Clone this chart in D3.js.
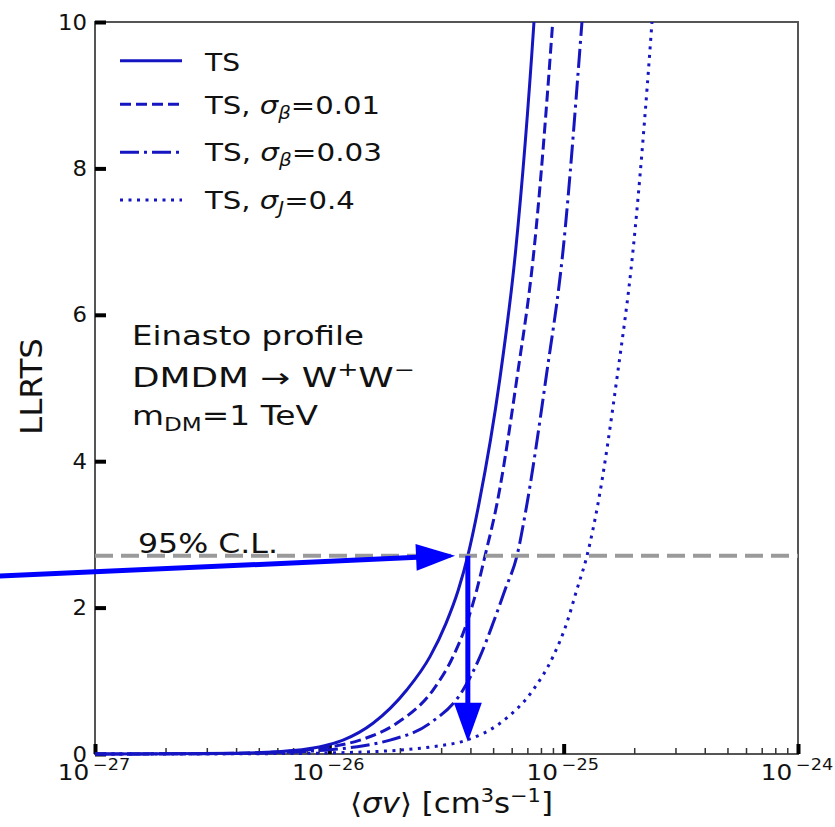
<!DOCTYPE html>
<html>
<head>
<meta charset="utf-8">
<script src="https://cdn.jsdelivr.net/npm/d3@7"></script>
<style>
  body { margin: 0; background: #fff; }
  svg { display: block; }
  text { font-family: "DejaVu Sans", sans-serif; fill: #111; }
</style>
</head>
<body>
<svg id="chart" width="835" height="827"></svg>
<script>
// Annihilation cross-section <σv> (cm^3 s^-1) and the log-likelihood ratio test statistic
const svSolid   = [1e-27, 2e-27, 4e-27, 6e-27, 8e-27, 1e-26, 1.144e-26, 1.536e-26, 2.139e-26, 2.689e-26, 3.147e-26, 3.551e-26, 3.9e-26, 4.35e-26, 5.35e-26, 6.24e-26, 7.47e-26, 7.75e-26];
const tsSolid   = [0.001, 0.002, 0.01, 0.03, 0.067, 0.13, 0.19, 0.42, 0.874, 1.33, 1.785, 2.24, 2.71, 3.42, 5.14, 6.88, 10.0, 10.8];

const svDash    = [1e-27, 2e-27, 4e-27, 6e-27, 8e-27, 1e-26, 1.352e-26, 1.939e-26, 2.77e-26, 3.372e-26, 3.857e-26, 4.256e-26, 4.62e-26, 5.194e-26, 6.322e-26, 7.47e-26, 8.98e-26, 9.35e-26];
const tsDash    = [0.001, 0.002, 0.009, 0.027, 0.056, 0.095, 0.19, 0.42, 0.874, 1.33, 1.785, 2.24, 2.71, 3.42, 5.14, 6.88, 10.0, 10.8];

const svDashDot = [1e-27, 2e-27, 4e-27, 6e-27, 8e-27, 1e-26, 1.4e-26, 1.815e-26, 2.689e-26, 3.719e-26, 4.395e-26, 4.994e-26, 5.618e-26, 6.322e-26, 6.975e-26, 8.41e-26, 9.94e-26, 1.197e-25, 1.25e-25];
const tsDashDot = [0.001, 0.002, 0.006, 0.02, 0.036, 0.058, 0.113, 0.19, 0.42, 0.874, 1.33, 1.785, 2.24, 2.71, 3.42, 5.14, 6.88, 10.0, 10.8];

const svDot     = [1e-27, 3e-27, 6e-27, 1e-26, 1.5e-26, 2e-26, 2.77e-26, 3.857e-26, 5.348e-26, 7.399e-26, 9.006e-26, 1.03e-25, 1.137e-25, 1.258e-25, 1.401e-25, 1.689e-25, 1.977e-25, 2.382e-25, 2.48e-25];
const tsDot     = [0.0, 0.002, 0.0056, 0.0144, 0.031, 0.053, 0.1, 0.19, 0.42, 0.874, 1.33, 1.785, 2.24, 2.71, 3.42, 5.14, 6.88, 10.0, 10.8];

// Legend entries: subscript of σ and its value ("" for the baseline TS)
const legendSub = ["", "β", "β", "J"];
const legendVal = ["", "0.01", "0.03", "0.4"];

// Axis ticks
const yTicks   = [0, 2, 4, 6, 8, 10];
const xTicks   = [1e-27, 1e-26, 1e-25, 1e-24];
const xTickExp = ["−27", "−26", "−25", "−24"];

// 95% confidence level and the resulting upper limit
const clLevel     = 2.71;
const limitSv     = 3.9e-26;
const hArrowFrom  = [3.9e-28, 2.43];
const hArrowTo    = [3.44e-26, 2.71];
const vArrowTo    = [3.9e-26, 0.168];

// ---------------------------------------------------------------------------
const svg = d3.select("#chart");
const L = 95, R = 798, T = 22, B = 754;
const x = d3.scaleLog().domain([1e-27, 1e-24]).range([L, R]);
const y = d3.scaleLinear().domain([0, 10]).range([B, T]);

const curveColor = "#1515c2";
const arrowColor = "#0000ff";

// stretch a text element horizontally so it spans a given width
function fitText(sel, tx, ty, width, rotate) {
  const w = sel.node().getComputedTextLength();
  const s = width / w;
  sel.attr("transform", `translate(${tx},${ty})` + (rotate ? ` rotate(${rotate})` : "") + ` scale(${s},1)`);
}

svg.append("defs").append("clipPath").attr("id", "plotClip")
  .append("rect").attr("x", L).attr("y", T).attr("width", R - L).attr("height", B - T + 3);

// frame
svg.append("rect").attr("x", L).attr("y", T).attr("width", R - L).attr("height", B - T)
  .attr("fill", "none").attr("stroke", "#555").attr("stroke-width", 2);

// x axis ticks (inward)
const xMinor = [];
for (let e = -27; e < -24; e++) for (let m = 2; m <= 9; m++) xMinor.push(m * Math.pow(10, e));
svg.append("g").attr("transform", `translate(0,${B})`)
  .call(d3.axisTop(x).tickValues(xMinor).tickSize(6).tickFormat(""))
  .call(g => g.select(".domain").remove())
  .call(g => g.selectAll("line").attr("stroke", "#333").attr("stroke-width", 1.5));
svg.append("g").attr("transform", `translate(0,${B})`)
  .call(d3.axisTop(x).tickValues(xTicks).tickSize(10).tickFormat(""))
  .call(g => g.select(".domain").remove())
  .call(g => g.selectAll("line").attr("stroke", "#000").attr("stroke-width", 4));

// y axis ticks (inward)
svg.append("g").attr("transform", `translate(${L},0)`)
  .call(d3.axisRight(y).tickValues(yTicks).tickSize(11).tickFormat(""))
  .call(g => g.select(".domain").remove())
  .call(g => g.selectAll("line").attr("stroke", "#000").attr("stroke-width", 4));

// y tick labels
yTicks.forEach(v => {
  const t = svg.append("text").attr("text-anchor", "end").attr("font-size", 21).text(v);
  fitText(t, 87, y(v) + 7.5, String(v).length * 14.5);
});

// x tick labels 10^n
xTicks.forEach((v, i) => {
  const t = svg.append("text").attr("text-anchor", "middle").attr("font-size", 21);
  t.append("tspan").text("10");
  t.append("tspan").attr("font-size", 15).attr("dy", -10).attr("dx", 3).text(xTickExp[i]);
  fitText(t, x(v) - 1, 780, 69);
});

// axis titles
const yl = svg.append("text").attr("text-anchor", "middle").attr("font-size", 30).text("LLRTS");
fitText(yl, 42, 386.5, 97, -90);

const xl = svg.append("text").attr("text-anchor", "middle").attr("font-size", 28);
xl.append("tspan").text("⟨");
xl.append("tspan").attr("font-style", "italic").text("σv");
xl.append("tspan").text("⟩ [cm");
xl.append("tspan").attr("font-size", 19).attr("dy", -11).text("3");
xl.append("tspan").attr("dy", 11).text("s");
xl.append("tspan").attr("font-size", 19).attr("dy", -11).text("−1");
xl.append("tspan").attr("dy", 11).text("]");
fitText(xl, 451.5, 813, 203);

// curves
const series = [
  { sv: svSolid,   ts: tsSolid,   dash: null },
  { sv: svDash,    ts: tsDash,    dash: "11,5" },
  { sv: svDashDot, ts: tsDashDot, dash: "19,5,3,5" },
  { sv: svDot,     ts: tsDot,     dash: "3,5.5" }
];
const line = d3.line().curve(d3.curveMonotoneX).x(d => x(d[0])).y(d => y(d[1]));
const curves = svg.append("g").attr("clip-path", "url(#plotClip)");
series.forEach(s => {
  curves.append("path")
    .attr("d", line(s.sv.map((v, i) => [v, s.ts[i]])))
    .attr("fill", "none").attr("stroke", curveColor).attr("stroke-width", 3)
    .attr("stroke-dasharray", s.dash);
});

// 95% C.L. line
svg.append("line")
  .attr("x1", L).attr("x2", R).attr("y1", y(clLevel)).attr("y2", y(clLevel))
  .attr("stroke", "#9a9a9a").attr("stroke-width", 4).attr("stroke-dasharray", "18,8");
const cl = svg.append("text").attr("font-size", 27).text("95% C.L.");
fitText(cl, 138, 553, 140);

// annotation block
const a1 = svg.append("text").attr("font-size", 27).text("Einasto profile");
fitText(a1, 132, 345, 232);
const a2 = svg.append("text").attr("font-size", 27);
a2.append("tspan").text("DMDM  →  W");
a2.append("tspan").attr("font-size", 19).attr("dy", -11).text("+");
a2.append("tspan").attr("dy", 11).text("W");
a2.append("tspan").attr("font-size", 19).attr("dy", -11).text("−");
fitText(a2, 132, 387, 283);
const a3 = svg.append("text").attr("font-size", 27);
a3.append("tspan").text("m");
a3.append("tspan").attr("font-size", 19).attr("dy", 6).text("DM");
a3.append("tspan").attr("dy", -6).text("=1 TeV");
fitText(a3, 132, 425, 186);

// legend
const legRowY = [60.7, 104.3, 152.3, 200];
const legBase = [71, 113.5, 161, 209];
const legWidths = [35, 175, 177, 150];
series.forEach((s, i) => {
  svg.append("line").attr("x1", 120).attr("x2", 182).attr("y1", legRowY[i]).attr("y2", legRowY[i])
    .attr("stroke", curveColor).attr("stroke-width", 3).attr("stroke-dasharray", s.dash);
  const t = svg.append("text").attr("font-size", 25);
  if (legendSub[i] === "") {
    t.text("TS");
  } else {
    t.append("tspan").text("TS, ");
    t.append("tspan").attr("font-style", "italic").text("σ");
    t.append("tspan").attr("font-style", "italic").attr("font-size", 17).attr("dy", 5).text(legendSub[i]);
    t.append("tspan").attr("dy", -5).text("=" + legendVal[i]);
  }
  fitText(t, 205, legBase[i], legWidths[i]);
});

// arrows marking the upper limit
function arrow(p0, p1, headLen, headHalf) {
  const dx = p1[0] - p0[0], dy = p1[1] - p0[1];
  const len = Math.hypot(dx, dy), ux = dx / len, uy = dy / len;
  const bx = p1[0] - ux * headLen, by = p1[1] - uy * headLen;
  svg.append("line").attr("x1", p0[0]).attr("y1", p0[1]).attr("x2", bx + ux).attr("y2", by + uy)
    .attr("stroke", arrowColor).attr("stroke-width", 5);
  svg.append("path")
    .attr("d", `M${p1[0]},${p1[1]} L${bx - uy * headHalf},${by + ux * headHalf} L${bx + uy * headHalf},${by - ux * headHalf} Z`)
    .attr("fill", arrowColor);
}
arrow([x(hArrowFrom[0]), y(hArrowFrom[1])], [x(hArrowTo[0]), y(hArrowTo[1])], 39, 13.5);
arrow([x(limitSv), y(clLevel)], [x(vArrowTo[0]), y(vArrowTo[1])], 39, 14);
</script>
</body>
</html>
